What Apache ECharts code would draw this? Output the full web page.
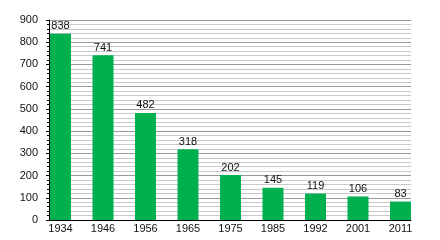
<!DOCTYPE html>
<html><head><meta charset="utf-8">
<script src="https://cdn.jsdelivr.net/npm/echarts@6/dist/echarts.min.js"></script>
<style>html,body{margin:0;padding:0;background:#fff}#c{width:440px;height:240px}</style>
</head><body><div id="c"></div>
<script>
var years = ['1934','1946','1956','1965','1975','1985','1992','2001','2011'];
var values = [838, 741, 482, 318, 202, 145, 119, 106, 83];
var yTicks = [0, 100, 200, 300, 400, 500, 600, 700, 800, 900];

var font = 'Liberation Sans';
var chart = echarts.init(document.getElementById('c'), null, {renderer: 'canvas'});
chart.setOption({
  animation: false,
  backgroundColor: '#fff',
  grid: [
    {left: 39.25, right: 18.25, top: 20, bottom: 20},
    {left: 49, right: 29, top: 20, bottom: 20}
  ],
  xAxis: [
    {type: 'category', gridIndex: 0, data: years, boundaryGap: true,
     axisLine: {show: false}, axisTick: {show: false},
     axisLabel: {margin: 3, fontSize: 11, color: '#111', fontFamily: font}},
    {type: 'value', gridIndex: 1, min: 0, max: 1,
     axisLine: {show: true, onZero: false, lineStyle: {color: '#000', width: 1}},
     axisTick: {show: false}, axisLabel: {show: false}, splitLine: {show: false}}
  ],
  yAxis: [
    {type: 'value', gridIndex: 0, min: yTicks[0], max: yTicks[yTicks.length-1], interval: 100,
     show: false, splitLine: {show: false}},
    {type: 'value', gridIndex: 1, min: yTicks[0], max: yTicks[yTicks.length-1], interval: 100,
     axisLine: {show: true, lineStyle: {color: '#000', width: 1}},
     axisTick: {show: true, length: 3, lineStyle: {color: '#000'}},
     minorTick: {show: true, splitNumber: 5, length: 2, lineStyle: {color: '#000'}},
     splitLine: {show: true, lineStyle: {color: '#999', width: 1}},
     minorSplitLine: {show: true, lineStyle: {color: '#c8c8c8', width: 1}},
     axisLabel: {margin: 11, fontSize: 11, color: '#111', fontFamily: font}}
  ],
  series: [{
    type: 'bar', xAxisIndex: 0, yAxisIndex: 0, data: values, barWidth: 21, z: 5,
    itemStyle: {color: '#00b04f'},
    label: {show: true, position: 'top', distance: 2, fontSize: 11, color: '#111', fontFamily: font}
  }]
});
</script></body></html>
